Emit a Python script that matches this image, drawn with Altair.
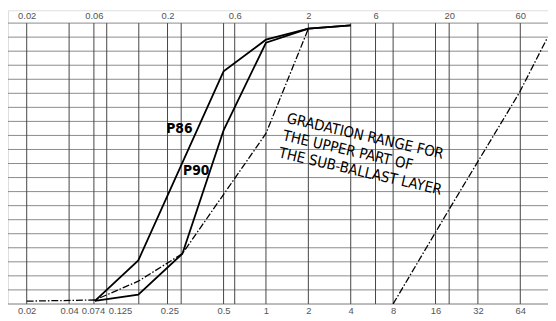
import altair as alt
import pandas as pd

# ---- data (grain size in mm, percent passing) ----
lower_size = [0.02, 0.061, 0.124, 0.255, 1.0, 2.0]
lower_pct = [1.0, 1.4, 8.1, 17.9, 60.7, 98.0]

upper_size = [8.0, 20.0, 63.0, 99.0]
upper_pct = [0.0, 33.7, 75.2, 94.5]

p86_size = [0.061, 0.124, 0.5, 1.0, 2.0, 4.0]
p86_pct = [1.1, 15.5, 82.8, 94.1, 98.0, 99.2]

p90_size = [0.061, 0.124, 0.255, 0.5, 1.0, 2.0, 4.0]
p90_pct = [1.1, 3.3, 17.9, 61.8, 93.0, 98.0, 99.2]

bottom_ticks = [0.02, 0.04, 0.074, 0.125, 0.25, 0.5, 1, 2, 4, 8, 16, 32, 64]
top_ticks = [0.02, 0.06, 0.2, 0.6, 2, 6, 20, 60]
grid_sizes = [0.02, 0.04, 0.06, 0.074, 0.125, 0.2, 0.25, 0.5, 0.6, 1, 2, 4, 6, 8, 16, 20, 32, 64]
pct_ticks = list(range(0, 101, 5))

note_lines = ["GRADATION RANGE FOR", "THE UPPER PART OF", "THE SUB-BALLAST LAYER"]

# ---- tables ----
def series(name, sizes, pcts):
    return pd.DataFrame({"series": name, "size": sizes, "pct": pcts, "order": range(len(sizes))})

solid_df = pd.concat([series("P86", p86_size, p86_pct), series("P90", p90_size, p90_pct)])
dash_df = pd.concat([series("lower", lower_size, lower_pct), series("upper", upper_size, upper_pct)])
grid_df = pd.DataFrame({"size": grid_sizes})
hgrid_df = pd.DataFrame({"pct": pct_ticks})

W, H = 548, 298
xscale = alt.Scale(type="log", domain=[0.014728, 100.68], nice=False)
yscale = alt.Scale(domain=[0, 104.56], nice=False, zero=False)

LABEL_FONT = "Liberation Sans"
NOTE_FONT = "DejaVu Sans Condensed"

hgrid = alt.Chart(hgrid_df).mark_rule(color="#8a8a8a", strokeWidth=1).encode(
    y=alt.Y("pct:Q", scale=yscale, axis=None),
)

vgrid = alt.Chart(grid_df).mark_rule(color="#444", strokeWidth=1).encode(
    x=alt.X("size:Q", scale=xscale, axis=alt.Axis(
        orient="bottom", values=bottom_ticks, labelExpr="'' + datum.value",
        ticks=False, tickSize=0, domain=False, grid=False, title=None,
        labelPadding=2, labelBaseline="top", labelFont=LABEL_FONT, labelFontSize=9.5,
        labelColor="#555", labelOverlap=False, labelFlush=False,
        labelOffset=alt.ExprRef(expr="datum.value == 0.074 ? -14 : datum.value == 0.125 ? -19 : datum.value == 0.25 ? -12 : 0"))),
    y=alt.Y(datum=0, scale=yscale, axis=None),
    y2=alt.Y2(datum=100),
)

solid = alt.Chart(solid_df).mark_line(color="black", strokeWidth=1.8, clip=True).encode(
    x=alt.X("size:Q", scale=xscale, axis=alt.Axis(
        orient="top", values=top_ticks, labelExpr="'' + datum.value",
        ticks=False, tickSize=0, domain=False, grid=False, title=None,
        labelPadding=0, labelBaseline="top", labelFont=LABEL_FONT, labelFontSize=9.5,
        labelColor="#555", labelOverlap=False, labelFlush=False,
        labelOffset=alt.ExprRef(expr="datum.value == 60 ? 4 : 0"))),
    y=alt.Y("pct:Q", scale=yscale, axis=None),
    detail="series:N",
    order="order:Q",
)

dashed = alt.Chart(dash_df).mark_line(color="black", strokeWidth=1.3, strokeDash=[7, 2, 1.5, 2], clip=True).encode(
    x=alt.X("size:Q", scale=xscale, axis=None),
    y=alt.Y("pct:Q", scale=yscale, axis=None),
    detail="series:N",
    order="order:Q",
)

def label(txt, size, pct):
    return alt.Chart().mark_text(text=txt, font=NOTE_FONT, fontSize=14, fontWeight=600,
                                 align="center", baseline="middle", color="black").encode(
        x=alt.X(datum=size, scale=xscale, axis=None),
        y=alt.Y(datum=pct, scale=yscale, axis=None),
    )

p86_label = label("P86", 0.243, 62.1)
p90_label = label("P90", 0.32, 47.4)

note = alt.Chart().mark_text(text=note_lines, font=NOTE_FONT, fontSize=15, lineHeight=18,
                             align="left", baseline="top", angle=13, color="black").encode(
    x=alt.X(datum=1.45, scale=xscale, axis=None),
    y=alt.Y(datum=68.6, scale=yscale, axis=None),
)

chart = alt.layer(hgrid, vgrid, solid, dashed, p86_label, p90_label, note).resolve_axis(
    x="independent"
).properties(
    width=W, height=H,
    autosize=alt.AutoSizeParams(type="none"),
    padding={"left": 0, "top": 0, "right": 0, "bottom": 16},
).configure_view(stroke="#555", strokeWidth=1).configure(background="white")

chart.save("out.html", embed_options={"renderer": "svg", "actions": False})
